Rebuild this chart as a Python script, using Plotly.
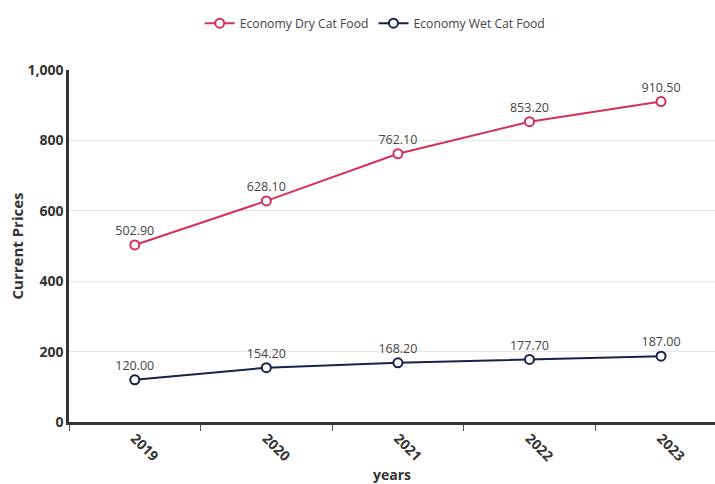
import plotly.graph_objects as go

years = ["2019", "2020", "2021", "2022", "2023"]
dry_food = [502.90, 628.10, 762.10, 853.20, 910.50]
wet_food = [120.00, 154.20, 168.20, 177.70, 187.00]

DRY_COLOR = "#d62f5c"
WET_COLOR = "#18204f"
FONT = "Open Sans"

fig = go.Figure()


def add_series(name, values, color):
    fig.add_trace(go.Scatter(
        x=years, y=values, name=name,
        mode="lines+markers+text",
        line=dict(color=color, width=2),
        marker=dict(symbol="circle", size=9, color="white",
                    line=dict(color=color, width=2)),
        text=[f"{v:.2f}" for v in values],
        textposition="top center",
        textfont=dict(family=FONT, size=12.5, color="#444444"),
        cliponaxis=False,
    ))


add_series("Economy Dry Cat Food", dry_food, DRY_COLOR)
add_series("Economy Wet Cat Food", wet_food, WET_COLOR)

fig.update_layout(
    width=715, height=484,
    margin=dict(l=69, r=0, t=70, b=62),
    paper_bgcolor="white", plot_bgcolor="white",
    font=dict(family=FONT, size=12, color="#333333"),
    legend=dict(orientation="h", x=0.474, xanchor="center", y=0.982,
                yref="container", yanchor="top",
                font=dict(family=FONT, size=12.2, color="#444444"),
                itemwidth=30),
    showlegend=True,
)

fig.update_xaxes(
    type="category", range=[-0.5, 4.41], automargin=False,
    tickson="boundaries", ticks="outside", ticklen=6, tickcolor="#555555",
    tickangle=45,
    tickfont=dict(family=FONT, size=14, color="#333333", weight="bold"),
    showline=True, linecolor="#333333", linewidth=2.5,
    showgrid=False,
    title=dict(text="years", standoff=15,
               font=dict(family=FONT, size=14, color="#333333", weight="bold")),
)

fig.update_yaxes(
    range=[0, 1000], dtick=200, tickformat=",d", automargin=False,
    tickfont=dict(family=FONT, size=14, color="#333333", weight="bold"),
    showline=True, linecolor="#333333", linewidth=2.5,
    showgrid=True, gridcolor="#e6e6e6", gridwidth=1,
    zeroline=False, ticks="", ticklen=4,
    title=dict(text="Current Prices", standoff=1,
               font=dict(family=FONT, size=15, color="#333333", weight="bold")),
)

fig.write_html("out.html")
